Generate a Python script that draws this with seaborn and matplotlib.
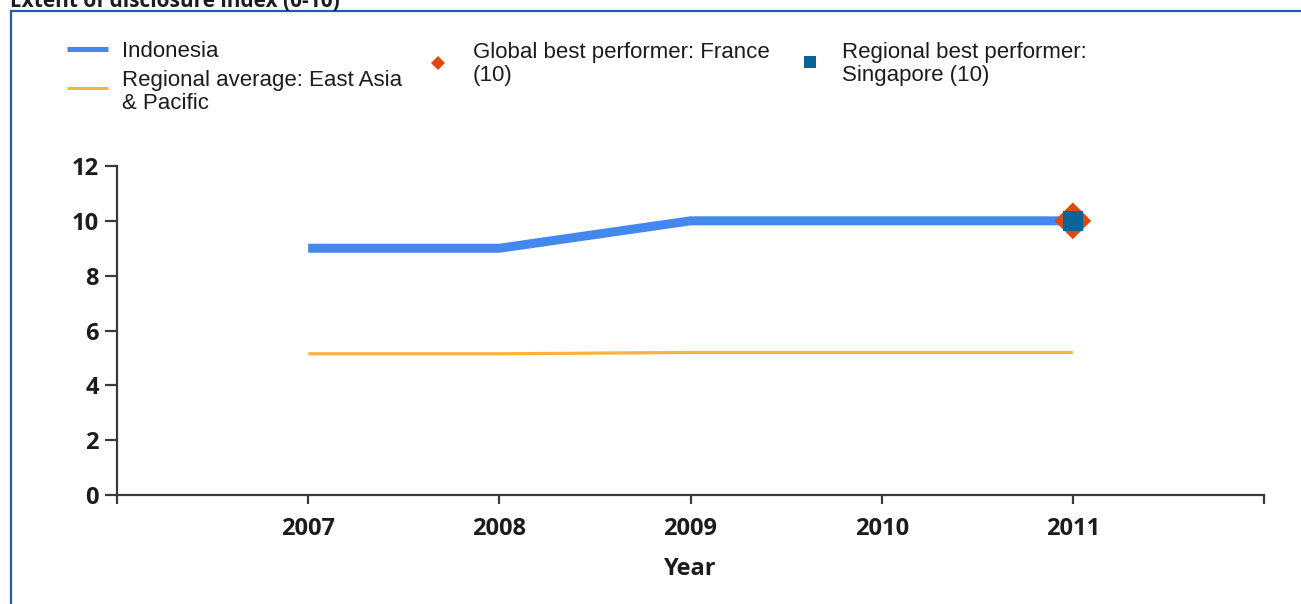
import matplotlib
matplotlib.use("Agg")
import matplotlib.pyplot as plt
import seaborn as sns
import pandas as pd
from matplotlib.lines import Line2D
from matplotlib.patches import Rectangle
from matplotlib import font_manager

# ---- data ----
years = [2007, 2008, 2009, 2010, 2011]
indonesia = [9, 9, 10, 10, 10]
regional_avg = [5.15, 5.15, 5.2, 5.2, 5.2]
global_best_year = [2011]
global_best_value = [10]
regional_best_year = [2011]
regional_best_value = [10]
y_ticks = [0, 2, 4, 6, 8, 10, 12]
title = "Extent of disclosure index (0-10)"
x_label = "Year"
legend_labels = ["Indonesia", "Regional average: East Asia\n& Pacific",
                 "Global best performer: France\n(10)",
                 "Regional best performer:\nSingapore (10)"]

BLUE = "#4388ee"
ORANGE = "#ffb23f"
RED = "#e0480f"
TEAL = "#0b6496"
FRAME = "#1f5fa8"
AXC = "#3a3a3a"
TXT = "#1c1c1c"


def bold_family(cands):
    have = {}
    for f in font_manager.fontManager.ttflist:
        w = f.weight if isinstance(f.weight, int) else (700 if "bold" in str(f.weight).lower() else 400)
        if w >= 600:
            have[f.name] = True
    for c in cands:
        if c in have:
            return c
    return "DejaVu Sans"


BFAM = bold_family(["Noto Sans", "Open Sans", "Lato", "Roboto", "Inter", "DejaVu Sans"])

sns.set_theme(style="white")
plt.rcParams["font.family"] = [BFAM, "DejaVu Sans"]

W, H = 1301, 604
fig = plt.figure(figsize=(W / 100, H / 100), dpi=100)
fig.patch.set_facecolor("white")

ax = fig.add_axes([117 / W, 1 - 495 / H, (1264 - 117) / W, (495 - 166) / H])
ax.set_facecolor("white")

df_ind = pd.DataFrame({"year": years, "value": indonesia})
df_reg = pd.DataFrame({"year": years, "value": regional_avg})
sns.lineplot(data=df_reg, x="year", y="value", ax=ax, color=ORANGE, lw=2.3,
             solid_capstyle="butt", zorder=2)
sns.lineplot(data=df_ind, x="year", y="value", ax=ax, color=BLUE, lw=6.5,
             solid_capstyle="butt", zorder=3)
sns.scatterplot(x=global_best_year, y=global_best_value, ax=ax, marker="D",
                s=350, color=RED, edgecolor="none", linewidth=0, zorder=4)
sns.scatterplot(x=regional_best_year, y=regional_best_value, ax=ax, marker="s",
                s=205, color=TEAL, edgecolor="none", linewidth=0, zorder=5)

ax.set_xlim(years[0] - 1, years[-1] + 1)
ax.set_ylim(y_ticks[0], y_ticks[-1])
xt = [years[0] - 1] + years + [years[-1] + 1]
ax.set_xticks(xt)
ax.set_xticklabels([""] + [str(y) for y in years] + [""])
ax.set_yticks(y_ticks)
ax.set_yticklabels([str(v) for v in y_ticks])
ax.set_ylabel("")
ax.set_xlabel(x_label, fontsize=17, fontweight="bold", color=TXT, labelpad=12)

for s in ["top", "right"]:
    ax.spines[s].set_visible(False)
for s in ["left", "bottom"]:
    ax.spines[s].set_color(AXC)
    ax.spines[s].set_linewidth(1.6)
ax.tick_params(axis="both", which="major", direction="out", color=AXC, width=1.6,
               labelsize=17, labelcolor=TXT, bottom=True, left=True)
ax.tick_params(axis="y", length=9, pad=4)
ax.tick_params(axis="x", length=6.5, pad=9)
for lab in ax.get_xticklabels() + ax.get_yticklabels():
    lab.set_fontweight("bold")

# ---- frame border ----
fig.add_artist(Rectangle((11 / W, -0.1), 1.2, 1 - 11 / H + 0.1, transform=fig.transFigure,
                         fill=False, edgecolor=FRAME, lw=1.6, zorder=0))

# ---- cut-off title (as in the reference) ----
fig.text(10 / W, 1 - 7 / H, title, fontsize=15, fontweight="bold", color=TXT,
         va="baseline", ha="left")


# ---- legend ----
def fx(px):
    return px / W


def fy(py):
    return 1 - py / H


lf = ["Liberation Sans", "DejaVu Sans"]
fig.add_artist(Line2D([fx(67), fx(108)], [fy(49), fy(49)], transform=fig.transFigure,
                      color=BLUE, lw=3.6, solid_capstyle="butt"))
fig.add_artist(Line2D([fx(67), fx(108)], [fy(88), fy(88)], transform=fig.transFigure,
                      color=ORANGE, lw=2.2, solid_capstyle="butt"))
fig.add_artist(Line2D([fx(438)], [fy(63)], transform=fig.transFigure, marker="D",
                      markersize=7, color=RED, markeredgewidth=0, linestyle="none"))
fig.add_artist(Line2D([fx(810)], [fy(62)], transform=fig.transFigure, marker="s",
                      markersize=9, color=TEAL, markeredgewidth=0, linestyle="none"))

# baseline of the LAST line of each label
legend_pos = [(122, 57), (122, 109), (473, 81), (842, 81)]
for (px, py), lab in zip(legend_pos, legend_labels):
    fig.text(fx(px), fy(py), lab, family=lf, fontsize=16, color=TXT,
             va="baseline", ha="left", linespacing=1.12)

fig.savefig("out.png", dpi=100, facecolor="white")
